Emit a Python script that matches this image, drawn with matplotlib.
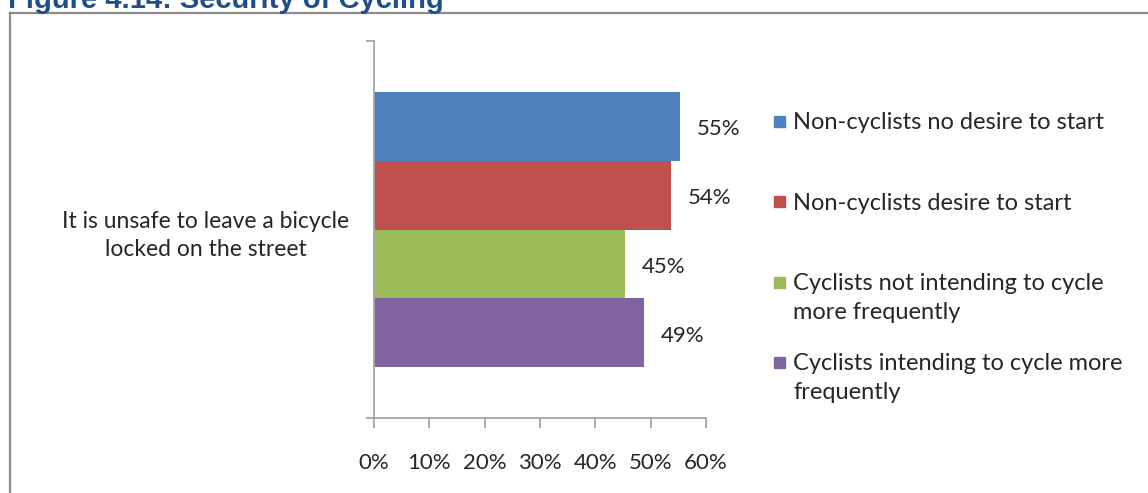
import matplotlib
matplotlib.use("Agg")
import matplotlib.pyplot as plt
from matplotlib.lines import Line2D
from matplotlib.patches import Rectangle

# ── Data ────────────────────────────────────────────────────────────────────
TITLE = "Figure 4.14: Security of Cycling"
CATEGORY = "It is unsafe to leave a bicycle\nlocked on the street"
SERIES = [
    "Non-cyclists no desire to start",
    "Non-cyclists desire to start",
    "Cyclists not intending to cycle\nmore frequently",
    "Cyclists intending to cycle more\nfrequently",
]
VALUES = [0.553, 0.537, 0.454, 0.488]
COLORS = ["#4F81BD", "#C0504D", "#9BBB59", "#8064A2"]
XTICKS = [0, 0.1, 0.2, 0.3, 0.4, 0.5, 0.6]

# ── Figure setup ────────────────────────────────────────────────────────────
W, H = 1148, 493
plt.rcParams["font.family"] = ["Lato", "DejaVu Sans"]
TXT = "#262626"
AXC = "#A6A6A6"
FS = 16

fig = plt.figure(figsize=(W / 100, H / 100), dpi=100)


def fx(px):
    return px / W


def fy(py):
    return 1 - py / H


# outer frame (only top and left edges are visible in the crop)
fig.add_artist(Line2D([fx(9.5), fx(9.5)], [fy(13), fy(H + 5)], color="#8C8C8C", lw=1.6,
                      transform=fig.transFigure))
fig.add_artist(Line2D([fx(9.5), fx(W + 5)], [fy(13), fy(13)], color="#8C8C8C", lw=1.6,
                      transform=fig.transFigure))

fig.text(fx(8), fy(8), TITLE, color="#1F4E8C", fontsize=21, fontweight="bold",
         family=["Liberation Sans", "DejaVu Sans"], ha="left", va="baseline")

ax = fig.add_axes([fx(374), fy(418), fx(706) - fx(374), fy(41) - fy(418)])

# ── Bars ────────────────────────────────────────────────────────────────────
h = 0.183
for i, (v, c) in enumerate(zip(VALUES, COLORS)):
    yc = (1.5 - i) * h
    ax.barh(yc, v, height=h, color=c, edgecolor="none")
    ax.annotate(f"{v:.0%}", (v, yc), xytext=(12, -2.5), textcoords="offset points",
                ha="left", va="center", fontsize=FS, color=TXT)

ax.set_xlim(0, 0.6)
ax.set_ylim(-0.5, 0.5)

for s in ["top", "right"]:
    ax.spines[s].set_visible(False)
for s in ["left", "bottom"]:
    ax.spines[s].set_color(AXC)
    ax.spines[s].set_linewidth(1.3)

ax.set_xticks(XTICKS)
ax.set_xticklabels([f"{t:.0%}" for t in XTICKS])
ax.tick_params(axis="x", direction="out", length=7, width=1.3, color=AXC,
               labelsize=FS, labelcolor=TXT, pad=18)

ax.set_yticks([0])
ax.set_yticklabels([CATEGORY], multialignment="center", linespacing=1.45)
ax.set_yticks([-0.5, 0.5], minor=True)
ax.tick_params(axis="y", which="major", length=0, labelsize=16.5, labelcolor=TXT, pad=18)
ax.tick_params(axis="y", which="minor", direction="out", length=6, width=1.3, color=AXC)

# ── Legend (drawn by hand to keep Excel's spacing) ──────────────────────────
for i, (lab, c) in enumerate(zip(SERIES, COLORS)):
    y = 121 + 80.5 * i
    fig.add_artist(Rectangle((fx(774), fy(y + 5.5)), fx(11), fy(0) - fy(11), color=c,
                             transform=fig.transFigure))
    fig.text(fx(793), fy(y - 9), lab, ha="left", va="top", fontsize=17, color=TXT,
             linespacing=1.46)

fig.savefig("out.png", dpi=100)
